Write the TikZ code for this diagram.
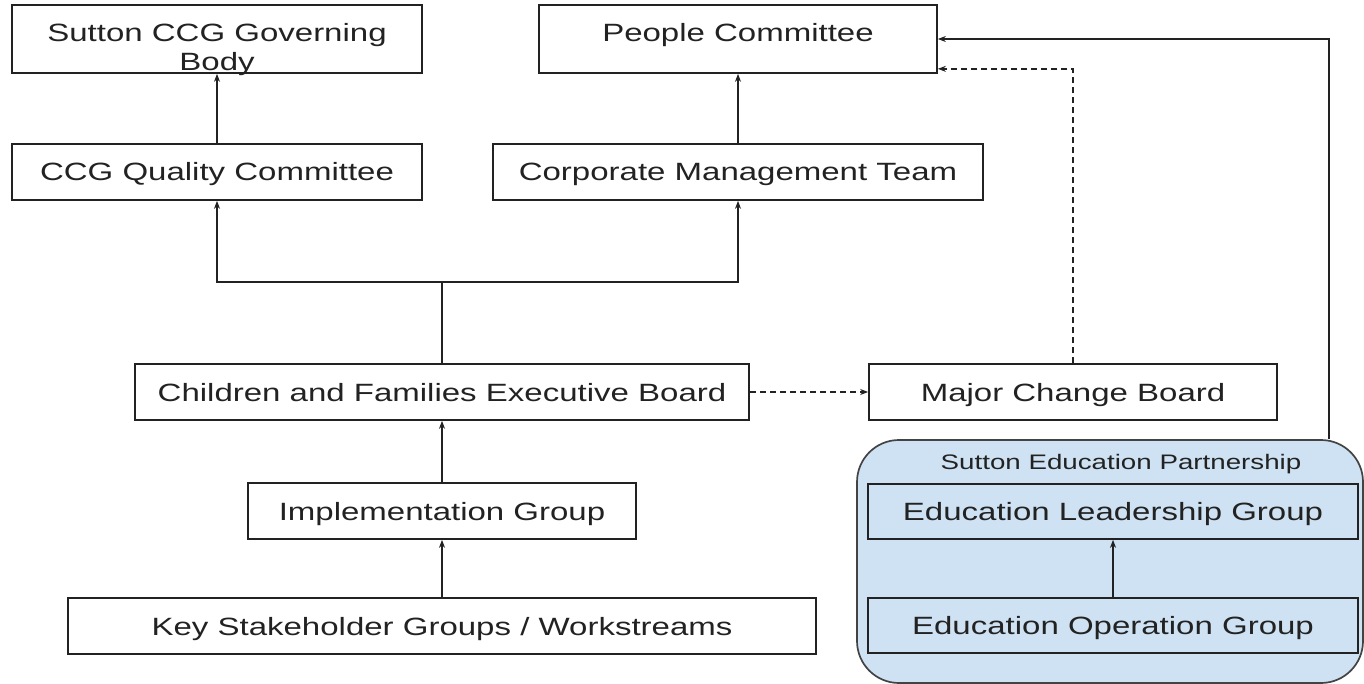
\documentclass[tikz,border=0pt]{standalone}
\usepackage{fontspec}
\setmainfont{Liberation Sans}[FakeStretch=1.32]
\usetikzlibrary{arrows.meta}
\definecolor{sepblue}{HTML}{CFE2F3}
\definecolor{ink}{HTML}{222222}
\tikzset{
  box/.style={draw=ink, line width=1.7pt, rectangle, inner sep=0pt, text=ink,
              text height=24pt, text depth=6pt,
              font=\fontsize{25}{29}\selectfont},
  txt/.style={text=ink, align=center, inner sep=0pt, font=\fontsize{25}{29}\selectfont},
  smalltxt/.style={text=ink, inner sep=0pt, font=\fontsize{21}{24}\selectfont},
  arr/.style={draw=ink, line width=1.7pt, -{Stealth[length=8pt,width=6pt]}},
  darr/.style={arr, dash pattern=on 6pt off 4pt},
  line/.style={draw=ink, line width=1.7pt},
  group/.style={draw=ink!85, line width=1.7pt, fill=sepblue, rounded corners=42pt, rectangle, inner sep=0pt}
}
\begin{document}
\begin{tikzpicture}[x=1pt,y=-1pt]
\useasboundingbox (0,0) rectangle (1364,684);
% group background
\node[group, minimum width=506pt, minimum height=243pt] (sep) at (1110,561.5) {};
\node[smalltxt] (septitle) at (1121,464) {Sutton Education Partnership};
% boxes
\node[box, minimum width=410pt, minimum height=68pt] (gov) at (217,39) {};
\node[txt] (govtxt) at (217,50) {Sutton CCG Governing\\Body};
\node[box, minimum width=410pt, minimum height=56pt] (qual) at (217,172) {CCG Quality Committee};
\node[box, minimum width=398pt, minimum height=68pt] (people) at (738,39) {};
\node[txt] (peopletxt) at (738,35) {People Committee};
\node[box, minimum width=490pt, minimum height=56pt] (corp) at (738,172) {Corporate Management Team};
\node[box, minimum width=614pt, minimum height=56pt] (child) at (442,392) {Children and Families Executive Board};
\node[box, minimum width=408pt, minimum height=56pt] (major) at (1073,392) {Major Change Board};
\node[box, minimum width=388pt, minimum height=56pt] (impl) at (442,511) {Implementation Group};
\node[box, minimum width=748pt, minimum height=56pt] (key) at (442,626) {Key Stakeholder Groups / Workstreams};
\node[box, minimum width=490pt, minimum height=55pt] (lead) at (1113,511.5) {Education Leadership Group};
\node[box, minimum width=490pt, minimum height=55pt] (oper) at (1113,625.5) {Education Operation Group};
% connectors
\coordinate (split) at (442,282);
\draw[arr] (qual.north) -- (gov.south);
\draw[arr] (corp.north) -- (people.south);
\draw[line] (child.north) -- (split);
\draw[arr] (split) -| (qual.south);
\draw[arr] (split) -| (corp.south);
\draw[arr] (impl.north) -- (child.south);
\draw[arr] (key.north) -- (impl.south);
\draw[darr] (child.east) -- (major.west);
\draw[darr] (major.north) |- ([yshift=5pt]people.south east);
\draw[arr] ([xshift=219pt]sep.north) |- (people.east);
\draw[arr] (oper.north) -- (lead.south);
\end{tikzpicture}
\end{document}
